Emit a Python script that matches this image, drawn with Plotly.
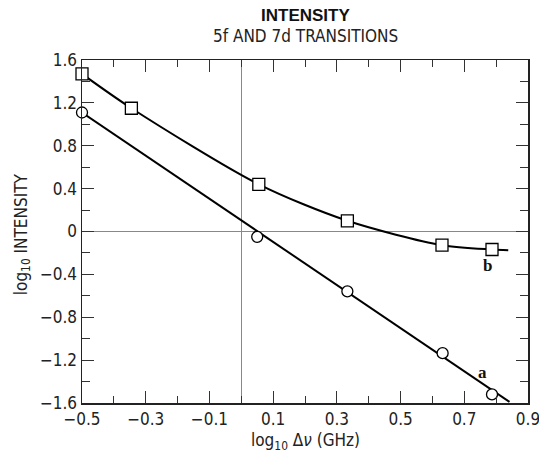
import plotly.graph_objects as go

# Data
b_x = [-0.5, -0.345, 0.055, 0.333, 0.63, 0.787]
b_y = [1.47, 1.15, 0.44, 0.10, -0.128, -0.168]
a_x = [-0.5, 0.05, 0.333, 0.632, 0.787]
a_y = [1.11, -0.05, -0.558, -1.135, -1.52]

# fitted curves
curve_b_x = [-0.5, -0.345, 0.055, 0.333, 0.63, 0.787, 0.838]
curve_b_y = [1.47, 1.15, 0.44, 0.10, -0.128, -0.168, -0.175]
curve_a_x = [-0.5, 0.842]
curve_a_y = [1.11, -1.59]

x_tickvals = [-0.5, -0.3, -0.1, 0.1, 0.3, 0.5, 0.7, 0.9]
x_ticktext = ["\u22120.5", "\u22120.3", "\u22120.1", "0.1", "0.3", "0.5", "0.7", "0.9"]
y_tickvals = [1.6, 1.2, 0.8, 0.4, 0.0, -0.4, -0.8, -1.2, -1.6]
y_ticktext = ["1.6", "1.2", "0.8", "0.4", "0", "\u22120.4", "\u22120.8", "\u22121.2", "\u22121.6"]

FONT = "DejaVu Sans Condensed, Liberation Sans Narrow, Arial Narrow, sans-serif"

W, H = 539, 454
L, R, T, B = 82, 10.5, 60, 51.3
PH = H - T - B
PW = W - L - R


def py(page_y):
    return (H - B - page_y) / PH


def px(page_x):
    return (page_x - L) / PW


fig = go.Figure()
fig.add_trace(go.Scatter(x=curve_b_x, y=curve_b_y, mode="lines",
                         line=dict(color="black", width=2, shape="spline", smoothing=0.8),
                         showlegend=False, hoverinfo="skip"))
fig.add_trace(go.Scatter(x=curve_a_x, y=curve_a_y, mode="lines",
                         line=dict(color="black", width=2),
                         showlegend=False, hoverinfo="skip"))
fig.add_trace(go.Scatter(x=b_x, y=b_y, mode="markers",
                         marker=dict(symbol="square", size=12, color="white",
                                     line=dict(color="black", width=1.3)),
                         showlegend=False, cliponaxis=False))
fig.add_trace(go.Scatter(x=a_x, y=a_y, mode="markers",
                         marker=dict(symbol="circle", size=11, color="white",
                                     line=dict(color="black", width=1.3)),
                         showlegend=False, cliponaxis=False))

fig.update_layout(
    width=W, height=H,
    margin=dict(l=L, r=R, t=T, b=B, autoexpand=False),
    plot_bgcolor="white", paper_bgcolor="white",
    font=dict(family=FONT, size=16, color="#222"),
    annotations=[
        dict(text="<b>INTENSITY</b>", x=0.5, y=py(16), xref="paper", yref="paper",
             yanchor="middle", showarrow=False,
             font=dict(family="Liberation Sans, Arial, sans-serif", size=17, color="#111")),
        dict(text="5f AND 7d TRANSITIONS", x=0.5, y=py(36), xref="paper", yref="paper",
             yanchor="middle", showarrow=False, font=dict(family=FONT, size=17, color="#222")),
        dict(text="log<sub>10</sub> \u0394<i>\u03bd</i> (GHz)", x=0.5, y=py(441),
             xref="paper", yref="paper", yanchor="middle", showarrow=False,
             font=dict(family=FONT, size=17, color="#222")),
        dict(text="log<sub>10</sub> INTENSITY", x=px(22), y=py(234),
             xref="paper", yref="paper", xanchor="center", yanchor="middle", textangle=-90,
             showarrow=False, font=dict(family=FONT, size=17, color="#222")),
        dict(text="<b>a</b>", x=0.757, y=-1.318, xref="x", yref="y", showarrow=False,
             font=dict(family="Liberation Serif, Times New Roman, serif", size=17, color="#111")),
        dict(text="<b>b</b>", x=0.774, y=-0.315, xref="x", yref="y", showarrow=False,
             font=dict(family="Liberation Serif, Times New Roman, serif", size=17, color="#111")),
    ],
)

fig.update_xaxes(
    range=[-0.5, 0.9], tickmode="array", tickvals=x_tickvals, ticktext=x_ticktext,
    ticks="inside", ticklen=12, tickwidth=1, tickcolor="#333",
    minor=dict(tickmode="linear", tick0=0, dtick=0.1, ticks="inside", ticklen=7,
               tickwidth=1, tickcolor="#333", showgrid=False),
    showline=True, linecolor="#222", linewidth=1.5, mirror="ticks",
    showgrid=False, zeroline=True, zerolinecolor="#888", zerolinewidth=1,
    automargin=False, ticklabeloverflow="allow",
    tickfont=dict(family=FONT, size=17, color="#222"),
)
fig.update_yaxes(
    range=[-1.6, 1.6], tickmode="array", tickvals=y_tickvals, ticktext=y_ticktext,
    ticks="inside", ticklen=12, tickwidth=1, tickcolor="#333",
    minor=dict(tickmode="linear", tick0=0, dtick=0.2, ticks="inside", ticklen=8,
               tickwidth=1, tickcolor="#333", showgrid=False),
    showline=True, linecolor="#222", linewidth=1.5, mirror="ticks",
    showgrid=False, zeroline=True, zerolinecolor="#888", zerolinewidth=1,
    automargin=False, ticklabeloverflow="allow",
    tickfont=dict(family=FONT, size=17, color="#222"),
)

# remove the browser's default 8px body margin so the figure fills the window
fig.write_html("out.html", config={"displayModeBar": False, "staticPlot": True},
               post_script="document.body.style.margin='0';document.body.style.overflow='hidden';")
